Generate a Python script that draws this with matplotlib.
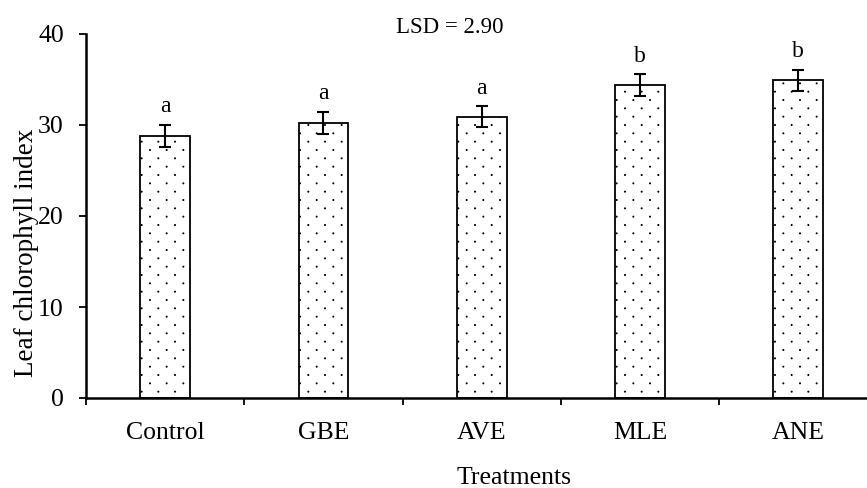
import matplotlib
matplotlib.use("Agg")
import matplotlib.pyplot as plt
import matplotlib.hatch as mhatch
from matplotlib.path import Path
import numpy as np

categories = ["Control", "GBE", "AVE", "MLE", "ANE"]
values = [28.8, 30.25, 30.9, 34.4, 34.9]
errors = [1.2, 1.2, 1.15, 1.2, 1.15]
letters = ["a", "a", "a", "b", "b"]
lsd_text = "LSD = 2.90"
y_ticks = [0, 10, 20, 30, 40]


class SparseDots(mhatch.HatchPatternBase):
    """Staggered small dots: 12 rows per unit, 6 dots per row."""
    def __init__(self, hatch, density):
        n = hatch.count('.')
        self.rows = 12 * n
        self.cols = 6 * n
        self.radius = 0.0045
        circ = Path.unit_circle()
        self.cv = circ.vertices
        self.cc = circ.codes
        if n == 0:
            self.num_vertices = 0
            return
        self.positions = []
        for i in range(self.rows + 1):
            y = i / self.rows
            if i % 2 == 0:
                xs = np.linspace(0, 1, self.cols + 1)
            else:
                xs = np.linspace(0.5 / self.cols, 1 - 0.5 / self.cols, self.cols)
            for xx in xs:
                self.positions.append((xx, y))
        self.num_vertices = len(self.positions) * len(self.cv)

    def set_vertices_and_codes(self, vertices, codes):
        k = len(self.cv)
        for j, (px, py) in enumerate(self.positions):
            vertices[j*k:(j+1)*k] = self.cv * self.radius + (px, py)
            codes[j*k:(j+1)*k] = self.cc


mhatch._hatch_types = [SparseDots if t is mhatch.SmallFilledCircles else t
                       for t in mhatch._hatch_types]

plt.rcParams['font.family'] = ['Liberation Serif', 'DejaVu Serif']
plt.rcParams['hatch.linewidth'] = 0.8

fig = plt.figure(figsize=(8.67, 4.88), dpi=100)
ax = fig.add_axes([86/867, (488-398)/488, 781/867, 364/488])

x = np.arange(len(categories))
ax.bar(x, values, width=0.315, color='white', edgecolor='black',
       linewidth=1.3, hatch='.', zorder=2)
ax.errorbar(x, values, yerr=errors, fmt='none', ecolor='black',
            elinewidth=1.5, capsize=4.5, capthick=1.5, zorder=3)

for xi, v, e, l in zip(x, values, errors, letters):
    ax.annotate(l, (xi, v + e), xytext=(0, 9), textcoords='offset points',
                ha='center', va='baseline', fontsize=17)

ax.set_xlim(-0.5, -0.5 + 781/158.3)
ax.set_ylim(0, 40)
ax.set_yticks(y_ticks)
ax.tick_params(axis='y', labelsize=18.5, direction='out', length=5,
               width=1.3, pad=11)

ax.set_xticks(np.arange(len(categories)) - 0.5)
ax.set_xticklabels([])
ax.set_xticks(x, minor=True)
ax.set_xticklabels(categories, minor=True)
ax.tick_params(axis='x', which='major', direction='out', length=5, width=1.3)
ax.tick_params(axis='x', which='minor', length=0, labelsize=18.5, pad=17.5)

for s in ['top', 'right']:
    ax.spines[s].set_visible(False)
for s in ['left', 'bottom']:
    ax.spines[s].set_linewidth(1.8)

ax.set_ylabel("Leaf chlorophyll index", fontsize=19.5)
ax.yaxis.set_label_coords((39-86)/781, 0.40)
ax.set_xlabel("Treatments", fontsize=18.5, va='baseline')
ax.xaxis.set_label_coords((514-86)/781, -(484-398)/364)

fig.text(450/867, (488-33)/488, lsd_text, ha='center', va='baseline', fontsize=16.5)

fig.savefig("out.png", dpi=100)
